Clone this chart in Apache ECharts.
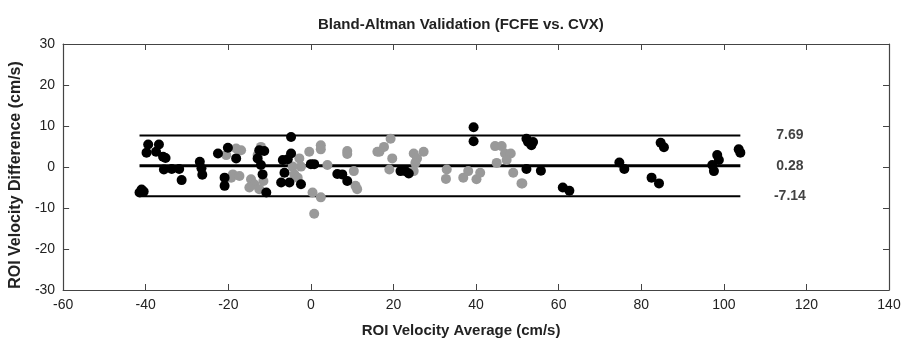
<!DOCTYPE html>
<html>
<head>
<meta charset="utf-8">
<script src="https://cdn.jsdelivr.net/npm/echarts@6/dist/echarts.min.js"></script>
<style>
  html, body { margin: 0; padding: 0; background: #fff; }
  #main { width: 904px; height: 343px; }
</style>
</head>
<body>
<div id="main"></div>
<script>
// Bland-Altman plot, FCFE vs CVX
const xTicks = [-60, 140, 20];   // min, max, step
const yTicks = [-30, 30, 10];

// limits of agreement and bias
const limits = [7.69, 0.28, -7.14];
const lineSpan = [-41.5, 104];   // x extent of the three lines
const labelX = 116;

// [average, difference] pairs
const blackPts = [
    [-41.5,-6.2],[-41,-5.5],[-40.5,-6.0],
    [-39.4,5.5],[-39.8,3.5],[-36.8,5.5],[-37.5,3.7],[-35.8,2.5],[-35.2,2.2],
    [-35.6,-0.6],[-33.7,-0.5],[-31.9,-0.5],[-31.3,-3.2],
    [-26.9,1.3],[-26.5,-0.3],[-26.3,-1.9],
    [-22.5,3.3],[-20.1,4.7],[-20.9,-2.6],[-20.9,-4.6],[-18.1,2.1],
    [-12.5,4.1],[-11.3,3.9],[-12.9,2.1],[-12.1,0.5],[-11.7,-1.8],[-10.8,-6.2],
    [-4.8,7.3],[-4.8,3.3],[-6.8,1.7],[-5.6,1.9],[-6.4,-1.4],[-7.2,-3.8],[-5.2,-3.8],[-2.4,-4.2],
    [0,0.7],[0.8,0.7],[6.4,-1.7],[7.6,-1.8],[8.8,-3.4],
    [21.7,-1.0],[22.9,-1.0],[23.7,-1.6],
    [39.4,9.7],[39.4,6.3],[52.2,6.9],[52.6,6.1],[53.4,5.3],[53.8,6.1],[52.2,-0.5],[55.7,-0.9],
    [61.0,-5.0],[62.6,-5.8],[74.7,1.1],[75.9,-0.5],[82.5,-2.6],[84.3,-4.0],[84.7,5.9],[85.5,4.8],
    [98.4,2.9],[98.8,1.7],[97.2,0.5],[97.6,-1.0],[103.6,4.3],[104.0,3.5]
];
const grayPts = [
    [-20.5,2.9],[-18.1,4.5],[-16.9,4.1],[-18.9,-1.8],[-19.3,-2.6],[-17.3,-2.2],[-14.5,-3.0],
    [-13.7,-4.2],[-14.9,-5.0],[-12.5,-5.4],[-12.1,4.9],[-12.9,2.9],[-11.5,-3.4],
    [-0.4,3.7],[2.4,5.3],[2.4,4.3],[-2.8,2.1],[-2.4,0.1],[-4.4,0.1],[-4.0,-1.8],[-3.2,-2.6],
    [0.4,-6.2],[2.4,-7.4],[0.8,-11.4],[4.0,0.5],[8.8,3.9],[8.8,3.2],[10.4,-1.0],[10.8,-4.6],[11.2,-5.4],
    [16.1,3.7],[16.6,3.7],[17.7,4.9],[19.3,6.9],[19.7,2.1],[19.0,-0.6],[24.9,3.3],[27.3,3.7],
    [25.7,2.1],[25.3,1.0],[24.9,-1.0],[32.9,-0.6],[32.7,-2.9],[36.9,-2.6],[38.1,-1.0],[40.1,-3.0],[41.0,-1.4],
    [44.6,5.1],[46.2,5.1],[47.0,3.3],[48.4,3.3],[47.4,1.7],[45.0,1.0],[49.0,-1.4],[51.0,-4.0],[51.2,-4.0]
];

const FONT = "'Liberation Sans', Arial, sans-serif";
const axisCol = '#444';

function boxAxis(range, pos, showLabels, extra) {
    return Object.assign({
        type: 'value',
        min: range[0], max: range[1], interval: range[2],
        position: pos,
        axisLine: { show: true, onZero: false, lineStyle: { color: axisCol, width: 1.2 } },
        axisTick: { show: true, inside: true, length: 6, lineStyle: { color: axisCol } },
        axisLabel: { show: showLabels, color: '#222', fontSize: 14, fontFamily: FONT, margin: 8 },
        splitLine: { show: false }
    }, extra || {});
}

let chart = echarts.init(document.getElementById('main'));

const lineSeries = limits.map((v, i) => ({
    type: 'line',
    data: [[lineSpan[0], v], [lineSpan[1], v]],
    symbol: 'none',
    silent: true,
    z: 1,
    lineStyle: { color: '#000', width: i === 1 ? 3 : 2 }
}));

chart.setOption({
    animation: false,
    title: {
        text: 'Bland-Altman Validation (FCFE vs. CVX)',
        left: 313, top: 12,
        textStyle: { fontSize: 15, fontWeight: 'bold', color: '#222', fontFamily: FONT }
    },
    grid: { left: 62, right: 15, top: 44, bottom: 51 },
    xAxis: [
        boxAxis(xTicks, 'bottom', true, {
            name: 'ROI Velocity Average (cm/s)',
            nameLocation: 'middle', nameGap: 33,
            nameTextStyle: { fontSize: 15, fontWeight: 'bold', color: '#222', fontFamily: FONT, padding: [0, 30, 0, 0] }
        }),
        boxAxis(xTicks, 'top', false)
    ],
    yAxis: [
        boxAxis(yTicks, 'left', true, {
            name: 'ROI Velocity Difference (cm/s)',
            nameLocation: 'middle', nameGap: 36,
            nameTextStyle: { fontSize: 16, fontWeight: 'bold', color: '#222', fontFamily: FONT, padding: [0, 16, 0, 0] }
        }),
        boxAxis(yTicks, 'right', false)
    ],
    series: [
        ...lineSeries,
        {
            type: 'scatter', data: grayPts, symbolSize: 10, z: 3,
            itemStyle: { color: '#999', opacity: 1 }
        },
        {
            type: 'scatter', data: blackPts, symbolSize: 10, z: 4,
            itemStyle: { color: '#000', opacity: 1 }
        },
        {
            type: 'scatter',
            data: limits.map(v => [labelX, v]),
            symbolSize: 0, silent: true,
            label: {
                show: true, position: 'inside',
                formatter: p => p.value[1].toFixed(2),
                fontSize: 14, fontWeight: 'bold', color: '#111', fontFamily: FONT
            }
        }
    ]
});
</script>
</body>
</html>
